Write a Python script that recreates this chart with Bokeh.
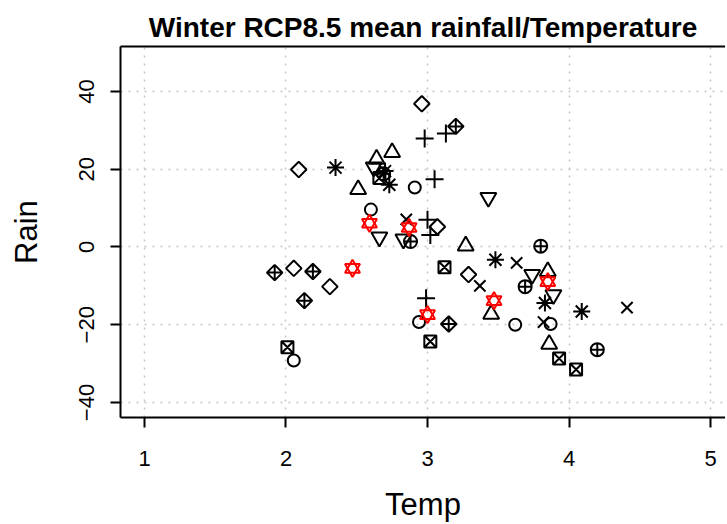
import math
from bokeh.plotting import figure
from bokeh.models import LinearAxis, FixedTicker, Range1d
from bokeh.embed import file_html
from bokeh.resources import INLINE

x_ticks = [1, 2, 3, 4, 5]
y_ticks = [-40, -20, 0, 20, 40]
x_tick_labels = {1: "1", 2: "2", 3: "3", 4: "4", 5: "5"}
y_tick_labels = {-40: "\u221240", -20: "\u221220", 0: "0", 20: "20", 40: "40"}

# pch 1 : open circle
circle_temp = [2.91, 2.60, 2.055, 2.94, 3.62, 3.87]
circle_rain = [15.3, 9.6, -29.2, -19.3, -20.0, -19.8]
# pch 2 : triangle up
tri_up_temp = [2.64, 2.75, 2.51, 3.27, 3.45, 3.85, 3.86]
tri_up_rain = [22.6, 24.3, 14.8, 0.3, -17.3, -6.3, -25.0]
# pch 3 : plus
plus_temp = [2.98, 3.13, 3.05, 3.00, 3.02, 2.99]
plus_rain = [27.9, 29.2, 17.4, 7.0, 3.1, -13.2]
# pch 4 : x
x_temp = [2.85, 3.63, 3.37, 4.41, 3.82]
x_rain = [7.1, -4.1, -10.0, -15.6, -19.3]
# pch 5 : diamond
diamond_temp = [2.09, 2.96, 3.07, 2.055, 2.31, 3.29]
diamond_rain = [19.9, 36.8, 5.2, -5.5, -10.2, -7.1]
# pch 6 : triangle down
tri_down_temp = [2.62, 2.66, 2.83, 3.43, 3.74, 3.89]
tri_down_rain = [20.5, 2.5, 2.0, 12.7, -7.1, -12.3]
# pch 7 : square with x
sqx_temp = [2.66, 3.12, 2.01, 3.02, 3.93, 4.05]
sqx_rain = [17.7, -5.2, -25.8, -24.3, -28.7, -31.5]
# pch 8 : asterisk
ast_temp = [2.35, 2.70, 2.73, 3.48, 3.83, 4.09]
ast_rain = [20.4, 19.5, 16.0, -3.3, -14.4, -16.6]
# pch 9 : diamond with plus
dplus_temp = [3.20, 1.92, 2.19, 2.13, 3.15]
dplus_rain = [31.0, -6.6, -6.3, -13.8, -19.8]
# pch 10 : circle with plus
cplus_temp = [2.69, 2.88, 3.80, 3.69, 4.20]
cplus_rain = [18.8, 1.4, 0.2, -10.2, -26.4]
# pch 11 : star of David (red)
star_temp = [2.59, 2.87, 2.47, 3.00, 3.47, 3.85]
star_rain = [6.1, 5.0, -5.5, -17.4, -13.8, -8.9]

FONT = "Liberation Sans"

p = figure(width=725, height=524,
           x_range=Range1d(0.8304, 5.106), y_range=Range1d(-43.85, 51.54),
           output_backend="svg", toolbar_location=None,
           min_border_left=120, min_border_right=0,
           min_border_top=46, min_border_bottom=106,
           x_axis_label="Temp", y_axis_label="Rain")
p.outline_line_color = None
p.background_fill_color = "white"
p.border_fill_color = "white"

p.title.text = "Winter RCP8.5 mean rainfall/Temperature"
p.title.text_font = FONT
p.title.text_font_size = "28px"
p.title.text_font_style = "bold"
p.title.text_color = "black"
p.title.align = "center"
p.title.offset = 4
p.title.standoff = 8

for ax, ticks, labels in ((p.xaxis[0], x_ticks, x_tick_labels), (p.yaxis[0], y_ticks, y_tick_labels)):
    ax.ticker = FixedTicker(ticks=ticks)
    ax.major_label_overrides = labels
    ax.axis_line_width = 2
    ax.axis_line_color = "black"
    ax.major_tick_line_width = 2
    ax.major_tick_out = 10
    ax.major_tick_in = 0
    ax.minor_tick_out = 0
    ax.minor_tick_in = 0
    ax.major_label_text_font = FONT
    ax.major_label_text_font_size = "22px"
    ax.major_label_text_color = "black"
    ax.axis_label_text_font = FONT
    ax.axis_label_text_font_size = "31px"
    ax.axis_label_text_font_style = "normal"
    ax.axis_label_text_color = "black"

p.xaxis[0].major_label_standoff = 23
p.xaxis[0].axis_label_standoff = 18
p.yaxis[0].major_label_orientation = "vertical"
p.yaxis[0].major_label_standoff = 16
p.yaxis[0].axis_label_standoff = 33

top = LinearAxis(ticker=FixedTicker(ticks=[]), axis_line_width=2, axis_line_color="black",
                 major_tick_out=0, major_tick_in=0, minor_tick_out=0, minor_tick_in=0,
                 major_label_text_font_size="0px", major_label_standoff=0)
p.add_layout(top, "above")

for g, ticks in ((p.xgrid[0], x_ticks), (p.ygrid[0], y_ticks)):
    g.ticker = FixedTicker(ticks=ticks)
    g.grid_line_color = "#c4c4c4"
    g.grid_line_dash = "2 6"
    g.grid_line_width = 1.5

LW = 2
style = dict(fill_color=None, line_color="black", line_width=LW)
p.scatter(circle_temp, circle_rain, marker="circle", size=12, **style)
p.scatter(tri_up_temp, tri_up_rain, marker="triangle", size=16, **style)
p.scatter(plus_temp, plus_rain, marker="cross", size=18, **style)
p.scatter(x_temp, x_rain, marker="x", size=16, **style)
p.scatter(diamond_temp, diamond_rain, marker="square", angle=math.pi / 4, size=11, **style)
p.scatter(tri_down_temp, tri_down_rain, marker="inverted_triangle", size=16, **style)
p.scatter(sqx_temp, sqx_rain, marker="square_x", size=12, **style)
p.scatter(ast_temp, ast_rain, marker="asterisk", size=17, **style)
p.scatter(dplus_temp, dplus_rain, marker="square_x", angle=math.pi / 4, size=11, **style)
p.scatter(cplus_temp, cplus_rain, marker="circle_cross", size=13, **style)
red = dict(fill_color=None, line_color="red", line_width=LW)
p.scatter(star_temp, star_rain, marker="triangle", size=15, **red)
p.scatter(star_temp, star_rain, marker="inverted_triangle", size=15, **red)

open("out.html", "w").write(file_html(p, INLINE))
